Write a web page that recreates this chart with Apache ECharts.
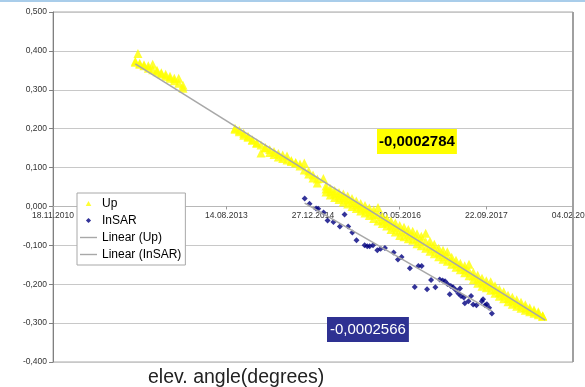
<!DOCTYPE html>
<html><head><meta charset="utf-8">
<script src="https://cdn.jsdelivr.net/npm/echarts@6/dist/echarts.min.js"></script>
<style>html,body{margin:0;padding:0;background:#fff}#c{width:585px;height:387px}</style>
</head><body><div id="c"></div>
<script>
// Tick labels
const xTickLabels = ['18.11.2010','01.04.2012','14.08.2013','27.12.2014','10.05.2016','22.09.2017','04.02.2019'];
const yTickLabels = ['-0,400','-0,300','-0,200','-0,100','0,000','0,100','0,200','0,300','0,400','0,500'];
const seriesNames = ['Up','InSAR','Linear (Up)','Linear (InSAR)'];
const slopeLabels = ['-0,0002784','-0,0002566'];
const axisTitle = 'elev. angle(degrees)';

// "Up" series (Excel date serial, value): rows [date, upper, lower] / [date, upper, mid, lower]
const upSeg1 = [
  [40975,0.3731,0.3705],[41000,0.3679,0.3654],[41025,0.3641,0.3615],[41050,0.3615,0.3551],
  [41075,0.3654,0.3513],[41100,0.3500,0.3462],[41125,0.3436,0.3410],[41150,0.3397,0.3346],
  [41175,0.3346,0.3295],[41200,0.3295,0.3231],[41225,0.3295,0.3167],[41250,0.3115,0.3038]
];
const upSeg2 = [
  [41550,0.2013,0.1987],[41575,0.1962,0.1923],[41600,0.1885,0.1833],[41625,0.1808,0.1782],
  [41650,0.1718,0.1705],[41675,0.1641,0.1628],[41700,0.1577,0.1372],[41725,0.1513,0.1500],
  [41750,0.1462,0.1385],[41775,0.1410,0.1333],[41800,0.1359,0.1269],[41825,0.1321,0.1231],
  [41850,0.1295,0.1192],[41875,0.1179,0.1154],[41900,0.1128,0.1115],[41925,0.1090,0.1038],
  [41950,0.1115,0.0936],[41975,0.0910,0.0833],[42000,0.0808,0.0731],[42025,0.0705,0.0603]
];
const upSeg3 = [
  [42075,0.0526,0.0449,0.0372],[42100,0.0462,0.0378,0.0295],[42125,0.0410,0.0320,0.0231],
  [42150,0.0359,0.0269,0.0179],[42175,0.0321,0.0218,0.0115],[42200,0.0269,0.0166,0.0064],
  [42225,0.0205,0.0103,0.0000],[42250,0.0141,0.0045,-0.0051],[42275,0.0077,-0.0019,-0.0115],
  [42300,0.0026,-0.0071,-0.0167],[42325,-0.0038,-0.0134,-0.0231],[42350,-0.0090,-0.0199,-0.0308],
  [42375,-0.0026,-0.0205,-0.0372],[42400,-0.0256,-0.0346,-0.0436],[42425,-0.0308,-0.0404,-0.0500],
  [42450,-0.0372,-0.0481,-0.0590],[42475,-0.0423,-0.0538,-0.0654],[42500,-0.0487,-0.0615,-0.0744],
  [42525,-0.0538,-0.0660,-0.0782],[42550,-0.0590,-0.0712,-0.0833],[42575,-0.0641,-0.0756,-0.0872],
  [42600,-0.0705,-0.0833,-0.0962],[42625,-0.0769,-0.0891,-0.1013],[42650,-0.0692,-0.0910,-0.1077],
  [42675,-0.0897,-0.1026,-0.1154],[42700,-0.0974,-0.1096,-0.1218],[42725,-0.1077,-0.1186,-0.1295],
  [42750,-0.1128,-0.1244,-0.1359],[42775,-0.1167,-0.1289,-0.1410],[42800,-0.1308,-0.1397,-0.1487],
  [42825,-0.1385,-0.1474,-0.1564],[42850,-0.1462,-0.1545,-0.1628],[42875,-0.1526,-0.1615,-0.1705],
  [42900,-0.1487,-0.1660,-0.1782],[42925,-0.1692,-0.1788,-0.1885],[42950,-0.1769,-0.1872,-0.1974],
  [42975,-0.1846,-0.1948,-0.2051],[43000,-0.1910,-0.2000,-0.2090],[43025,-0.1936,-0.2045,-0.2154],
  [43050,-0.2038,-0.2135,-0.2231],[43075,-0.2128,-0.2218,-0.2308],[43100,-0.2192,-0.2282,-0.2372],
  [43125,-0.2282,-0.2365,-0.2449],[43150,-0.2333,-0.2423,-0.2513],[43175,-0.2397,-0.2481,-0.2564],
  [43200,-0.2462,-0.2538,-0.2615],[43225,-0.2526,-0.2596,-0.2667],[43250,-0.2603,-0.2654,-0.2705],
  [43275,-0.2654,-0.2699,-0.2744],[43300,-0.2705,-0.2744,-0.2782],[43325,-0.2808,-0.2815,-0.2821]
];
const upExtra = [[40990,0.393],[42060,0.072]];

// "InSAR" series
const insarDates = [41952,41980,42018,42030,42061,42084,42118,42155,42182,42203,42227,42251,42298,42313,42327,42346,
  42371,42390,42415,42465,42490,42511,42559,42587,42608,42627,42658,42681,42706,42731,42748,42762,42776,42789,
  42795,42808,42824,42839,42848,42854,42870,42876,42897,42912,42924,42943,42974,42981,42993,43003,43016,43032];
const insarValues = [0.0205,0.0069,-0.0051,-0.0059,-0.0154,-0.0359,-0.0397,-0.0513,-0.0205,-0.0513,-0.0667,-0.0872,
  -0.1000,-0.1026,-0.1026,-0.1000,-0.1128,-0.1085,-0.1069,-0.1187,-0.1367,-0.1300,-0.1590,-0.2069,-0.1531,-0.1531,
  -0.2128,-0.1890,-0.2077,-0.1880,-0.1905,-0.1923,-0.1992,-0.2256,-0.2044,-0.2077,-0.2146,-0.2238,-0.2110,-0.2300,
  -0.2341,-0.2487,-0.2436,-0.2300,-0.2521,-0.2538,-0.2436,-0.2385,-0.2538,-0.2513,-0.2608,-0.2751];

// Linear trend lines (endpoints)
const upTrendDates = [40975, 43340];
const upTrendValues = [0.3665, -0.2925];
const insarTrendDates = [41952, 43032];
const insarTrendValues = [0.0085, -0.2686];

// ---- build ----
const upData = [];
upSeg1.concat(upSeg2).forEach(r => { upData.push([r[0], r[1]]); upData.push([r[0], r[2]]); });
upSeg3.forEach(r => { upData.push([r[0], r[1]]); upData.push([r[0], r[2]]); upData.push([r[0], r[3]]); });
upExtra.forEach(r => upData.push(r));
const insarData = insarDates.map((d, i) => [d, insarValues[i]]);
const upTrend = upTrendDates.map((d, i) => [d, upTrendValues[i]]);
const insarTrend = insarTrendDates.map((d, i) => [d, insarTrendValues[i]]);

const FONT = 'Liberation Sans, Arial, sans-serif';
const GRID = {left: 53, right: 12, top: 12, bottom: 25};
const Y_MIN = -0.4, Y_MAX = 0.5;
// place the x axis on the zero line of the y axis
const plotH = 387 - GRID.top - GRID.bottom;
const xAxisOffset = -plotH * (0 - Y_MIN) / (Y_MAX - Y_MIN);

// legend icons drawn in a 17x6 box (invisible move-to points fix the box)
const BOX = 'M0,0M17,6';
const iconTri = 'path://' + BOX + 'M8.5,0.6L11.3,5.6L5.7,5.6Z';
const iconDia = 'path://' + BOX + 'M8.5,0.4L11.1,3L8.5,5.6L5.9,3Z';
const iconLine = 'path://' + BOX + 'M0,2.3H17V3.7H0Z';

const chart = echarts.init(document.getElementById('c'), null, {renderer: 'canvas'});
chart.setOption({
  animation: false,
  textStyle: {fontFamily: FONT},
  grid: Object.assign({show: true, borderColor: '#a8a8a8', borderWidth: 1,
    containLabel: false, outerBoundsMode: 'none'}, GRID),
  xAxis: {
    type: 'value', min: 40500, max: 43500, interval: 500,
    position: 'bottom', offset: xAxisOffset,
    axisLine: {onZero: false, lineStyle: {color: '#b8b8b8'}},
    axisTick: {show: true, length: 3, lineStyle: {color: '#999'}},
    axisLabel: {fontSize: 8.5, color: '#333', margin: 5, hideOverlap: false,
      formatter: v => xTickLabels[Math.round((v - 40500) / 500)] || ''},
    splitLine: {show: false}
  },
  yAxis: {
    type: 'value', min: Y_MIN, max: Y_MAX, interval: 0.1,
    axisLine: {show: true, onZero: false, lineStyle: {color: '#808080'}},
    axisTick: {show: true, length: 4, lineStyle: {color: '#808080'}},
    axisLabel: {fontSize: 8.5, color: '#333', margin: 6,
      formatter: v => yTickLabels[Math.round((v - Y_MIN) / 0.1)] || ''},
    splitLine: {lineStyle: {color: '#c8c8c8'}}
  },
  legend: {
    orient: 'vertical', left: 77, top: 193,
    backgroundColor: '#fff', borderColor: '#a8a8a8', borderWidth: 1,
    padding: [3, 4, 3, 3], itemWidth: 17, itemHeight: 6, itemGap: 2,
    selectedMode: false, z: 8,
    textStyle: {fontSize: 12, color: '#000', lineHeight: 15, fontFamily: FONT},
    data: [
      {name: seriesNames[0], icon: iconTri},
      {name: seriesNames[1], icon: iconDia},
      {name: seriesNames[2], icon: iconLine},
      {name: seriesNames[3], icon: iconLine}
    ]
  },
  series: [
    {name: seriesNames[0], type: 'scatter', symbol: 'triangle', symbolSize: 9,
     itemStyle: {color: '#FFFF00'}, data: upData, z: 2},
    {name: seriesNames[1], type: 'scatter', symbol: 'diamond', symbolSize: 6,
     itemStyle: {color: '#000080'}, data: insarData, z: 3},
    {name: seriesNames[2], type: 'line', data: upTrend, showSymbol: false, symbol: 'none',
     lineStyle: {color: '#a8a8a8', width: 1.6}, itemStyle: {color: '#a8a8a8'}, z: 4},
    {name: seriesNames[3], type: 'line', data: insarTrend, showSymbol: false, symbol: 'none',
     lineStyle: {color: '#a8a8a8', width: 1.6}, itemStyle: {color: '#a8a8a8'}, z: 4}
  ],
  graphic: [
    {type: 'rect', left: 0, top: 0, shape: {width: 585, height: 2}, style: {fill: '#a9cdea'}, z: 10},
    {type: 'rect', x: 572, y: 12, shape: {width: 2, height: 350}, style: {fill: '#a0a0a0'}, z: 10},
    {type: 'text', x: 377, y: 129, z: 20,
     style: {text: slopeLabels[0], font: 'bold 15px ' + FONT, fill: '#000',
             backgroundColor: '#FFFF00', padding: [5, 2, 5, 2]}},
    {type: 'text', x: 327, y: 317, z: 20,
     style: {text: slopeLabels[1], font: '15px ' + FONT, fill: '#fff',
             backgroundColor: '#2E3192', padding: [5, 3, 5, 3]}},
    {type: 'text', x: 148, y: 368, z: 20,
     style: {text: axisTitle, font: '19.5px ' + FONT, fill: '#222'}}
  ]
});
</script>
</body></html>
